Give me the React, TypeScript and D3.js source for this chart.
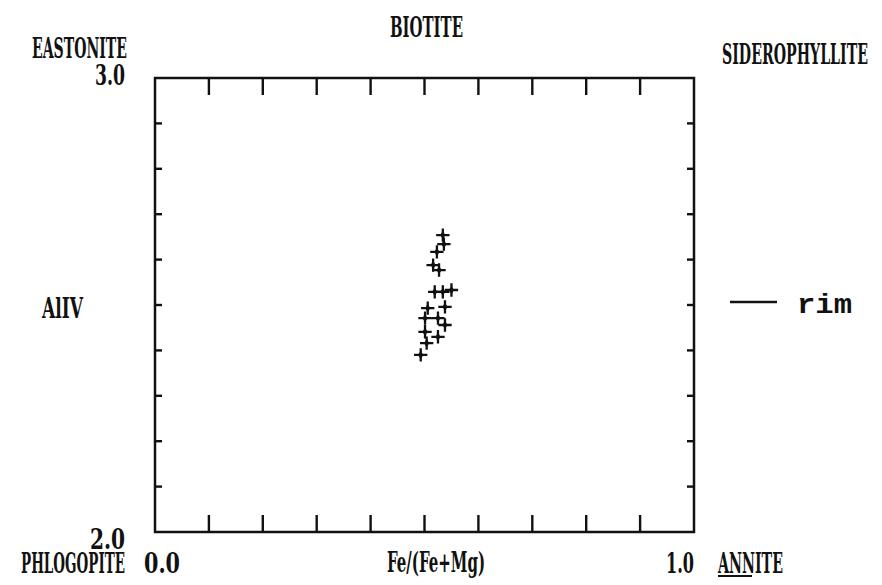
import { useRef, useEffect } from "react";
import * as d3 from "d3";

// Fe/(Fe+Mg) vs AlIV, rim analyses
const feRatio = [0.534, 0.536, 0.523, 0.516, 0.527, 0.534, 0.550, 0.519, 0.538, 0.506, 0.501, 0.525, 0.538, 0.501, 0.525, 0.504, 0.493];
const alIV = [2.654, 2.634, 2.617, 2.588, 2.577, 2.529, 2.533, 2.529, 2.496, 2.493, 2.471, 2.471, 2.456, 2.441, 2.430, 2.416, 2.390];

const xTicks = [0.1, 0.2, 0.3, 0.4, 0.5, 0.6, 0.7, 0.8, 0.9];
const yTicks = [2.1, 2.2, 2.3, 2.4, 2.5, 2.6, 2.7, 2.8, 2.9];

const title = "BIOTITE";
const cornerLabels = ["EASTONITE", "SIDEROPHYLLITE", "PHLOGOPITE", "ANNITE"];
const xLabel = "Fe/(Fe+Mg)";
const yLabel = "AlIV";
const seriesName = "rim";

const W = 882;
const H = 585;
const font = "'DejaVu Serif Condensed', 'DejaVu Serif', serif";

function App() {
  const svgRef = useRef<SVGSVGElement>(null);

  useEffect(() => {
    const svg = d3.select(svgRef.current);
    svg.selectAll("*").remove();

    const x = d3.scaleLinear().domain([0, 1]).range([155, 694]);
    const y = d3.scaleLinear().domain([2, 3]).range([532, 78]);
    const fmt = d3.format(".1f");

    const g = svg.append("g").attr("stroke", "#111").attr("fill", "none");

    // frame
    g.append("rect")
      .attr("x", x(0))
      .attr("y", y(3))
      .attr("width", x(1) - x(0))
      .attr("height", y(2) - y(3))
      .attr("stroke-width", 2.5);

    // long ticks on top and bottom
    g.selectAll(".xt-top")
      .data(xTicks)
      .join("line")
      .attr("x1", d => x(d)).attr("x2", d => x(d))
      .attr("y1", y(3)).attr("y2", y(3) + 17)
      .attr("stroke-width", 2.4);
    g.selectAll(".xt-bot")
      .data(xTicks)
      .join("line")
      .attr("x1", d => x(d)).attr("x2", d => x(d))
      .attr("y1", y(2)).attr("y2", y(2) - 17)
      .attr("stroke-width", 2.4);

    // short ticks on sides
    g.selectAll(".yt-left")
      .data(yTicks)
      .join("line")
      .attr("x1", x(0)).attr("x2", x(0) + 7)
      .attr("y1", d => y(d)).attr("y2", d => y(d))
      .attr("stroke-width", 2.4);
    g.selectAll(".yt-right")
      .data(yTicks)
      .join("line")
      .attr("x1", x(1)).attr("x2", x(1) - 7)
      .attr("y1", d => y(d)).attr("y2", d => y(d))
      .attr("stroke-width", 2.4);

    // points: plus with a dot in the middle
    const plus = d3.symbol(d3.symbolPlus, 60);
    const pts = svg.append("g")
      .selectAll("g")
      .data(feRatio.map((f, i) => [f, alIV[i]]))
      .join("g")
      .attr("transform", d => `translate(${x(d[0])},${y(d[1])})`);
    pts.append("path")
      .attr("d", plus)
      .attr("fill", "none")
      .attr("stroke", "#111")
      .attr("stroke-width", 2.3);
    pts.append("path")
      .attr("d", d3.symbol(d3.symbolDiamond, 22))
      .attr("fill", "#111");

    // labels
    const txt = svg.append("g")
      .attr("fill", "#111")
      .attr("font-family", font)
      .attr("font-weight", "bold")
      .attr("font-size", 28);
    const label = (s: string, px: number, py: number, len: number, anchor = "start") =>
      txt.append("text")
        .attr("x", px).attr("y", py)
        .attr("text-anchor", anchor)
        .attr("textLength", len)
        .attr("lengthAdjust", "spacingAndGlyphs")
        .text(s);

    label(title, (x(0) + x(1)) / 2 + 2, 37, 73, "middle");
    label(cornerLabels[0], x(0) - 28, 58, 95, "end");
    label(fmt(3), x(0) - 30, y(3) + 7, 30, "end");
    label(cornerLabels[1], x(1) + 28, 64, 146);
    label(yLabel, 42, y(2.5) + 13, 41);
    label(fmt(2), x(0) - 30, y(2) + 17, 35, "end");
    label(cornerLabels[2], x(0) - 30, y(2) + 41, 104, "end");
    label(fmt(0), x(0) - 11, y(2) + 41, 36);
    label(xLabel, 387, y(2) + 40, 98);
    label(fmt(1), x(1), y(2) + 41, 28, "end");
    label(cornerLabels[3], x(1) + 24, y(2) + 41, 65);
    svg.append("line")
      .attr("x1", x(1) + 24).attr("x2", x(1) + 58)
      .attr("y1", y(2) + 44).attr("y2", y(2) + 44)
      .attr("stroke", "#111").attr("stroke-width", 2);

    // legend
    svg.append("line")
      .attr("x1", 730).attr("x2", 777)
      .attr("y1", 302).attr("y2", 302)
      .attr("stroke", "#111").attr("stroke-width", 2.4);
    svg.append("text")
      .attr("x", 797).attr("y", 313)
      .attr("font-family", "'Liberation Mono', 'Courier New', monospace")
      .attr("font-size", 28)
      .attr("font-weight", "bold")
      .attr("textLength", 55)
      .attr("lengthAdjust", "spacingAndGlyphs")
      .attr("fill", "#111")
      .text(seriesName);
  }, []);

  return (
    <div>
      <svg
        ref={svgRef}
        width={W}
        height={H}
        style={{ position: "absolute", left: 0, top: 0, background: "#fff" }}
      />
    </div>
  );
}

export default App;
